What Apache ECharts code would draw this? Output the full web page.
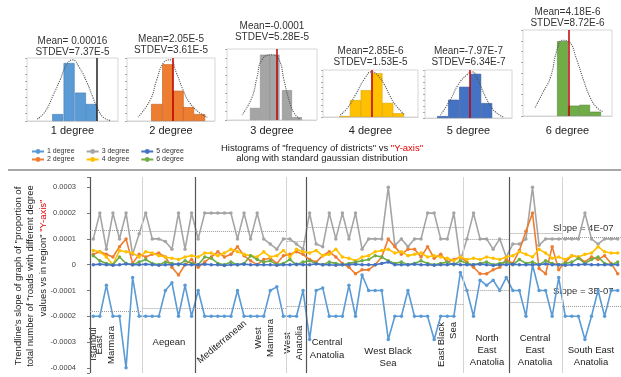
<!DOCTYPE html>
<html>
<head>
<meta charset="utf-8">
<script src="https://cdn.jsdelivr.net/npm/echarts@6/dist/echarts.min.js"></script>
<style>
  html, body { margin: 0; padding: 0; background: #fff; }
  #chart { width: 621px; height: 377px; }
</style>
</head>
<body>
<div id="chart"></div>
<script>
const FONT = '"Liberation Sans", Arial, sans-serif';

const seriesNames = ['1 degree', '2 degree', '3 degree', '4 degree', '5 degree', '6 degree'];
const seriesColors = ['#5b9bd5', '#ed7d31', '#a5a5a5', '#ffc000', '#4472c4', '#70ad47'];

// slope values per district, in units of 1e-4
const deg1 = [-2.0, -2.0, -0.8, -2.0, -2.0, -4.0, -0.5, -2.0, -2.0, -2.0, -2.0, -1.0, -0.7, -2.0, -0.8, -2.0,
  -1.0, -2.0, -2.0, -2.0, -2.0, -2.0, -1.0, -2.0, -2.0, -2.0, -2.0, -1.0, -0.86, -2.0, -2.0, -2.0,
  -1.0, -2.9, -1.0, -0.9, -2.0, -2.0, -2.0, -0.8, -2.0, -0.4, -1.0, -1.0, -1.0, -2.9, -2.0, -2.0,
  -1.0, -2.0, -2.0, -2.0, -2.9, -2.0, -2.0, -2.0, -0.3, -1.0, -2.0, -0.6, -0.8, -0.6, -1.0, -0.5,
  -1.0, -1.0, -2.0, 0.0, -1.0, -1.0, -2.0, -0.5, -2.0, -2.0, -2.0, -2.9, -2.0, -1.0, -2.0, -1.0, -1.0];
const deg2 = [0.4, 0.5, 0.4, 0.3, 0.7, 1.0, 0.05, 0.4, 0.3, 0.4, 0.45, 0.3, -0.1, -0.4, 0.0, 0.2,
  -0.1, 0.1, 0.3, 0.5, 0.3, 0.4, 0.7, 0.35, 0.15, 0.0, 0.2, 0.25, 0.05, 0.35, 0.4, 0.5,
  0.4, 0.2, 0.1, 0.35, 0.5, 0.3, 0.05, -0.1, -0.35, -0.2, -0.2, 0.0, 0.3, 1.0, 0.7, 0.4,
  0.6, 0.6, 0.3, 0.7, 0.25, 0.4, 0.1, 0.2, 0.3, 0.1, -0.1, -0.35, -0.35, -0.2, -0.1, 0.2,
  0.05, 0.55, 1.3, 2.0, -0.15, -0.35, 0.7, -0.2, 0.1, 0.35, 0.3, 0.1, 0.3, 0.2, 0.35, 0.05, -0.35];
const deg3 = [1.0, 2.0, 0.6, 2.0, 1.0, 2.0, 0.4, 1.2, 2.0, 1.0, 1.0, 0.9, 0.6, 2.0, 0.6, 2.0,
  1.0, 2.0, 2.0, 2.0, 2.0, 2.0, 1.0, 2.0, 1.0, 2.0, 1.0, 0.8, 0.6, 1.0, 1.0, 0.8,
  0.6, 2.0, 0.8, 0.7, 2.0, 1.0, 2.0, 1.0, 2.0, 0.6, 1.0, 1.0, 1.0, 3.0, 0.75, 1.0,
  0.7, 1.0, 1.0, 2.0, 2.0, 1.0, 1.0, 2.0, 0.15, 1.0, 2.0, 1.0, 1.0, 0.6, 1.0, 0.3,
  0.8, 0.8, 1.0, 3.0, 0.75, 1.0, 1.0, 1.0, 1.0, 1.0, 1.0, 2.0, 1.0, 0.8, 1.0, 1.0, 1.0];
const deg4 = [0.55, 0.5, 0.3, 0.0, 0.55, 0.5, 0.45, 0.3, 0.5, 0.45, 0.35, 0.3, 0.25, 0.2, 0.3, 0.35,
  0.3, 0.45, 0.45, 0.35, 0.45, 0.6, 0.5, 0.4, 0.35, 0.3, 0.5, 0.3, 0.35, 0.55, 0.3, 0.6,
  0.5, 0.45, 0.55, 0.35, 0.4, 0.6, 0.3, 0.25, 0.15, 0.3, 0.35, 0.5, 0.55, 0.6, 0.45, 0.5,
  0.35, 0.4, 0.45, 0.3, 0.35, 0.3, 0.25, 0.15, 0.3, 0.2, 0.25, 0.2, 0.3, 0.25, 0.2, 0.3,
  0.35, 0.5, 0.4, 0.3, 0.6, 0.45, 0.25, 0.3, 0.2, 0.35, 0.3, 0.4, 0.45, 0.7, 0.5, 0.45, 0.45];
const deg5 = [0.0, 0.02, 0.0, -0.02, 0.0, 0.03, 0.0, 0.0, 0.02, 0.0, -0.02, 0.0, 0.0, 0.03, 0.0, 0.0,
  0.0, 0.02, 0.0, 0.0, -0.03, 0.0, 0.0, 0.02, 0.0, 0.0, 0.0, 0.0, -0.02, 0.0, 0.0, 0.02,
  0.0, 0.0, 0.03, 0.0, 0.0, -0.02, 0.0, 0.0, 0.02, 0.0, 0.0, 0.0, 0.05, 0.1, 0.0, 0.0,
  0.0, 0.02, 0.0, 0.0, -0.02, 0.0, 0.0, 0.03, 0.0, 0.0, 0.0, 0.02, 0.0, -0.03, 0.0, 0.0,
  0.02, 0.0, 0.0, 0.0, 0.0, 0.03, 0.0, 0.0, -0.02, 0.0, 0.0, 0.02, 0.0, 0.0, 0.0, 0.0, 0.0];
const deg6 = [0.35, 0.15, 0.05, 0.0, 0.3, 0.05, 0.0, 0.1, 0.2, 0.05, 0.0, 0.1, 0.05, 0.0, 0.15, 0.05,
  0.0, 0.3, 0.25, 0.05, 0.0, 0.1, 0.0, 0.05, 0.35, 0.2, 0.1, 0.15, 0.0, 0.05, 0.2, 0.0,
  0.1, 0.15, 0.05, 0.0, 0.1, 0.05, 0.0, 0.05, 0.1, 0.15, 0.2, 0.35, 0.3, 0.15, 0.05, 0.1,
  0.0, 0.05, 0.15, 0.05, 0.0, 0.05, 0.1, 0.0, 0.15, 0.05, 0.0, 0.05, 0.1, 0.0, 0.05, 0.1,
  0.0, 0.2, 0.05, 0.1, 0.0, 0.15, 0.05, 0.0, 0.05, 0.1, 0.25, 0.05, 0.2, 0.3, 0.05, 0.0, 0.1];
const seriesValues = [deg1, deg2, deg3, deg4, deg5, deg6];

// region boundaries (district index), dark and light separators
const darkBounds = [0, 16, 33, 64];
const lightBounds = [8, 30, 57, 72];
const regionEdges = [0, 8, 16, 30, 33, 57, 64, 72, 81];
const grayRegionMean = [1.35, 1.3, 1.3, 0.9, 1.45, 1.0, 1.2, 1.05];
const blueRegionMean = [-1.8, -1.7, -1.7, -1.6, -1.55, -1.0, -1.45, -1.6];

// histograms: [bin position, relative frequency]
const histBars = [
  [[2.7, 0.11], [3.7, 0.92], [4.7, 0.45], [5.65, 0.27]],
  [[2.7, 0.27], [3.7, 0.9], [4.65, 0.48], [5.6, 0.22], [6.6, 0.11]],
  [[2.8, 0.17], [3.8, 0.92], [4.75, 0.92], [6.0, 0.42], [7.0, 0.04]],
  [[2.0, 0.02], [3.0, 0.36], [4.0, 0.57], [5.0, 0.93], [6.0, 0.3], [7.0, 0.08]],
  [[1.6, 0.04], [2.6, 0.38], [3.6, 0.65], [4.6, 0.92], [5.6, 0.31]],
  [[3.6, 0.87], [4.6, 0.12], [5.6, 0.13], [6.6, 0.05]]
];
const histCurves = [
  [[0.9, 0.03], [1.6, 0.15], [2.3, 0.41], [2.9, 0.65], [3.5, 0.9], [4.0, 0.97], [4.6, 0.85], [5.3, 0.6], [5.8, 0.37], [6.2, 0.2], [6.7, 0.06], [7.3, 0.01]],
  [[1.0, 0.06], [2.1, 0.33], [2.7, 0.65], [3.3, 0.92], [3.9, 0.97], [4.5, 0.76], [5.1, 0.49], [5.7, 0.29], [6.6, 0.13], [7.3, 0.06]],
  [[1.5, 0.07], [2.5, 0.32], [3.0, 0.6], [3.5, 0.85], [4.5, 0.92], [5.2, 0.85], [5.7, 0.56], [6.2, 0.28], [6.7, 0.1], [7.3, 0.01]],
  [[1.6, 0.04], [2.3, 0.2], [3.0, 0.47], [3.9, 0.83], [4.5, 0.96], [5.1, 0.88], [5.7, 0.68], [6.2, 0.45], [6.7, 0.26], [7.6, 0.04]],
  [[1.4, 0.06], [2.3, 0.38], [3.0, 0.69], [3.8, 0.9], [4.3, 0.96], [4.8, 0.79], [5.5, 0.44], [6.2, 0.17], [7.1, 0.02]],
  [[1.1, 0.1], [1.8, 0.27], [2.5, 0.45], [3.1, 0.77], [3.6, 0.88], [4.2, 0.86], [4.9, 0.65], [5.5, 0.42], [6.1, 0.22], [6.7, 0.1], [7.3, 0.05]]
];
const histMeanPos = [6.15, 4.18, 5.0, 4.54, 4.1, 4.2];
const histTitles = [
  'Mean= 0.00016\nSTDEV=7.37E-5',
  'Mean=2.05E-5\nSTDEV=3.61E-5',
  'Mean=-0.0001\nSTDEV=5.28E-5',
  'Mean=2.85E-6\nSTDEV=1.53E-5',
  'Mean=-7.97E-7\nSTDEV=6.34E-7',
  'Mean=4.18E-6\nSTDEV=8.72E-6'
];
const histLabels = ['1 degree', '2 degree', '3 degree', '4 degree', '5 degree', '6 degree'];

// layout of the small histogram panels
const histBox = [
  { left: 27, top: 58, width: 91, height: 63, xMax: 8, barW: 11, titleY: 47 },
  { left: 127, top: 58, width: 88, height: 63, xMax: 8, barW: 11, titleY: 45 },
  { left: 227, top: 49, width: 90, height: 71, xMax: 9, barW: 10, titleY: 32 },
  { left: 323, top: 70, width: 95, height: 47, xMax: 8.8, barW: 11, titleY: 57 },
  { left: 425, top: 70, width: 87, height: 48, xMax: 7.9, barW: 11, titleY: 57 },
  { left: 523, top: 30, width: 89, height: 86, xMax: 8.1, barW: 11, titleY: 18 }
];
const barEdge = ['#3d7ab8', '#c25a15', '#8c8c8c', '#d9a300', '#2f5597', '#548235'];

const chart = echarts.init(document.getElementById('chart'));

const grids = [{ left: 90, right: 0, top: 177, bottom: 4 }];
const xAxes = [
  { type: 'category', gridIndex: 0, data: deg1.map((v, i) => i + 1), boundaryGap: true, show: false },
  { type: 'value', gridIndex: 0, min: 0, max: 81, show: false }
];
const yAxes = [{
  type: 'value', gridIndex: 0, min: -0.00042, max: 0.00034, splitNumber: 7, offset: 10,
  axisLine: { show: false },
  axisTick: { show: true, length: 3, lineStyle: { color: '#777' } },
  splitLine: { show: false },
  axisLabel: {
    fontSize: 7.5, fontFamily: FONT, color: '#444', margin: 4,
    formatter: v => {
      const r = Math.round(v * 1e4);
      if (Math.abs(v * 1e4 - r) > 1e-6) return '';
      return r === 0 ? '0' : (r / 1e4).toFixed(4);
    }
  }
}];

const drawOrder = [2, 0, 1, 3, 5, 4];
const series = drawOrder.map((k, n) => ({
  name: seriesNames[k], type: 'line', xAxisIndex: 0, yAxisIndex: 0,
  data: seriesValues[k].map(v => v * 1e-4),
  symbol: 'circle', symbolSize: 3.5, z: 3 + n,
  lineStyle: { width: 1.6, color: seriesColors[k] },
  itemStyle: { color: seriesColors[k] }
}));

const meanSegs = [];
for (let r = 0; r < regionEdges.length - 1; r++) {
  [grayRegionMean, blueRegionMean].forEach(arr => {
    meanSegs.push([{ coord: [regionEdges[r], arr[r] * 1e-4] }, { coord: [regionEdges[r + 1], arr[r] * 1e-4] }]);
  });
}

series.push({
  type: 'line', xAxisIndex: 1, yAxisIndex: 0, data: [], silent: true, z: 1,
  markLine: {
    symbol: 'none', silent: true, animation: false, label: { show: false },
    data: [
      ...darkBounds.map(k => ({ xAxis: k, lineStyle: { color: '#555', width: 1.2, type: 'solid' } })),
      ...lightBounds.map(k => ({ xAxis: k, lineStyle: { color: '#d4d4d4', width: 1, type: 'solid' } })),
      ...meanSegs.map(s => [Object.assign({}, s[0], { lineStyle: { color: '#9a9a9a', width: 1, type: 'dotted' } }), s[1]])
    ]
  }
});

histBox.forEach((b, h) => {
  grids.push({
    left: b.left, top: b.top, width: b.width, height: b.height,
    show: true, borderColor: '#d6d6d6', borderWidth: 1, backgroundColor: '#fff'
  });
  xAxes.push({
    type: 'value', gridIndex: h + 1, min: 0, max: b.xMax,
    axisLine: { show: true, lineStyle: { color: '#cfcfcf', type: 'dotted' } },
    axisTick: { show: false }, axisLabel: { show: false }, splitLine: { show: false }
  });
  yAxes.push({
    type: 'value', gridIndex: h + 1, min: 0, max: 1, interval: 0.125, position: 'right',
    axisLine: { show: false },
    axisTick: { show: true, inside: true, length: 2, lineStyle: { color: '#aaa' } },
    axisLabel: { show: false }, splitLine: { show: false }
  });
  series.push({
    type: 'bar', xAxisIndex: h + 2, yAxisIndex: h + 1, data: histBars[h], barWidth: b.barW,
    itemStyle: { color: seriesColors[h], borderColor: barEdge[h], borderWidth: 0.6 },
    markLine: {
      symbol: 'none', silent: true, animation: false, label: { show: false },
      lineStyle: { color: h === 0 ? '#222' : '#c00000', width: 1.5, type: 'solid' },
      data: [{ xAxis: histMeanPos[h] }]
    }
  });
  series.push({
    type: 'line', xAxisIndex: h + 2, yAxisIndex: h + 1, data: histCurves[h], smooth: true,
    symbol: 'none', lineStyle: { color: '#555', width: 1.1, type: 'dotted' }, z: 4
  });
});

const txt = (x, y, text, extra = {}) => Object.assign({
  type: 'text', x, y, silent: true,
  style: Object.assign({
    text, fontSize: 9.5, fontFamily: FONT, fill: '#222', align: 'center', verticalAlign: 'middle', lineHeight: 11
  }, extra.style || {})
}, extra.el || {});

const graphics = [
  { type: 'line', silent: true, shape: { x1: 8, y1: 170, x2: 621, y2: 170 }, style: { stroke: '#8a8a8a', lineWidth: 1.5 } },
  txt(322, 153, '{a|Histograms of "frequency of districts" vs }{r|"Y-axis"}\n{a|along with standard gaussian distribution}', {
    style: { rich: { a: { fontSize: 9.5, fontFamily: FONT, fill: '#222', lineHeight: 10 }, r: { fontSize: 9.5, fontFamily: FONT, fill: '#e00000', lineHeight: 10 } } }
  }),
  // y-axis title
  txt(18, 276, 'Trendline\'s slope of graph of "proportion of', { el: { rotation: Math.PI / 2 } }),
  txt(30, 276, 'total number of "roads with different degree', { el: { rotation: Math.PI / 2 } }),
  txt(43, 258, '{a|values vs in region" }{r|"Y-axis"}', {
    el: { rotation: Math.PI / 2 },
    style: { rich: { a: { fontSize: 9.5, fontFamily: FONT, fill: '#222' }, r: { fontSize: 9.5, fontFamily: FONT, fill: '#e00000' } } }
  }),
  // region names
  txt(93, 344, 'Istanbul', { el: { rotation: Math.PI / 2 } }),
  txt(105.5, 345, 'East\nMarmara', { el: { rotation: Math.PI / 2 }, style: { lineHeight: 12 } }),
  txt(169, 342, 'Aegean'),
  txt(222, 342, 'Mediterranean', { el: { rotation: 0.7 } }),
  txt(264, 338, 'West\nMarmara', { el: { rotation: Math.PI / 2 }, style: { lineHeight: 12 } }),
  txt(293, 343, 'West\nAnatolia', { el: { rotation: Math.PI / 2 }, style: { lineHeight: 12 } }),
  txt(327, 349, 'Central\nAnatolia', { style: { lineHeight: 13 } }),
  txt(388, 357, 'West Black\nSea', { style: { lineHeight: 12 } }),
  txt(447, 322, 'East Black\nSea', { el: { rotation: Math.PI / 2 }, style: { align: 'right', lineHeight: 12 } }),
  txt(487, 350, 'North\nEast\nAnatolia', { style: { lineHeight: 12 } }),
  txt(535, 350, 'Central\nEast\nAnatolia', { style: { lineHeight: 12 } }),
  txt(591, 356, 'South East\nAnatolia', { style: { lineHeight: 12 } }),
  txt(553, 228, 'Slope = 4E-07', { style: { align: 'left', fill: '#333' } }),
  txt(553, 291, 'Slope = 3E-07', { style: { align: 'left', fill: '#333' } })
];
histBox.forEach((b, h) => {
  graphics.push(txt(b.left + b.width / 2, b.titleY, histTitles[h], { style: { fontSize: 10, lineHeight: 11, fill: '#333' } }));
  graphics.push(txt(b.left + b.width / 2, 131, histLabels[h], { style: { fontSize: 11, fill: '#222' } }));
});

const legendBase = {
  orient: 'horizontal', left: 26, itemWidth: 12, itemHeight: 6, itemGap: 11, selectedMode: false,
  textStyle: { fontSize: 7, fontFamily: FONT, color: '#333', padding: [0, 0, 0, -2] }
};

chart.setOption({
  animation: false,
  textStyle: { fontFamily: FONT },
  grid: grids,
  xAxis: xAxes,
  yAxis: yAxes,
  legend: [
    Object.assign({}, legendBase, { top: 143, data: ['1 degree', '3 degree', '5 degree'] }),
    Object.assign({}, legendBase, { top: 151, data: ['2 degree', '4 degree', '6 degree'] })
  ],
  series,
  graphic: graphics
});
</script>
</body>
</html>
